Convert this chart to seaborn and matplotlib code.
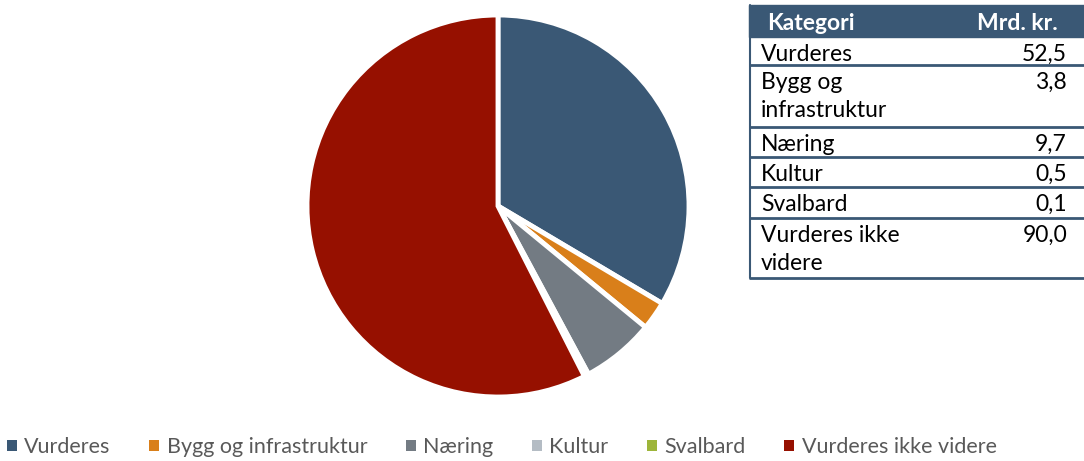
import matplotlib
matplotlib.use("Agg")
import matplotlib.pyplot as plt
import seaborn as sns
from matplotlib.patches import Rectangle

categories = ['Vurderes', 'Bygg og infrastruktur', 'Næring', 'Kultur', 'Svalbard', 'Vurderes ikke videre']
table_labels = ['Vurderes', 'Bygg og\ninfrastruktur', 'Næring', 'Kultur', 'Svalbard', 'Vurderes ikke\nvidere']
values = [52.5, 3.8, 9.7, 0.5, 0.1, 90.0]
colors = ['#3a5875', '#d97f1a', '#737b83', '#b4bcc4', '#9db53a', '#961000']

sns.set_theme(style='white')
plt.rcParams['font.family'] = ['Lato', 'DejaVu Sans']

W, H = 1084, 461
fig = plt.figure(figsize=(W / 100, H / 100), dpi=100)

# pie
cx, cy, r = 498, 206, 191
ax = fig.add_axes([(cx - r) / W, (H - cy - r) / H, 2 * r / W, 2 * r / H])
wedges, _ = ax.pie(values, colors=colors, startangle=90, counterclock=False,
                   wedgeprops=dict(edgecolor='white', linewidth=3.5))
ax.set_xlim(-1, 1)
ax.set_ylim(-1, 1)
ax.set_aspect('equal')

# table drawn in pixel coordinates
x0, x1, y0, y1 = 749, 1084, 5, 280
tax = fig.add_axes([x0 / W, (H - y1) / H, (x1 - x0) / W, (y1 - y0) / H])
tax.set_xlim(x0, x1)
tax.set_ylim(y1, y0)
tax.axis('off')
navy = '#3a5875'
fs = 16.5
rows = [5, 37, 65, 127, 157, 187, 218, 278]
tax.add_patch(Rectangle((x0, rows[0]), x1 - x0, rows[1] - rows[0], color=navy, clip_on=False))
tax.text(767, 30, 'Kategori', color='white', fontsize=fs,
         fontweight='bold', va='baseline', ha='left')
tax.text(1058, 30, 'Mrd. kr.', color='white', fontsize=fs,
         fontweight='bold', va='baseline', ha='right')
for i, (lab, v) in enumerate(zip(table_labels, values)):
    top = rows[i + 1]
    bot = rows[i + 2]
    for j, line in enumerate(lab.split('\n')):
        tax.text(761, top + 24 + 28 * j, line, fontsize=fs, va='baseline', ha='left',
                 color='black')
    tax.text(1067, top + 24, f'{v:.1f}'.replace('.', ','), fontsize=fs, va='baseline',
             ha='right', color='black')
    tax.plot([x0, x1], [bot, bot], color=navy, lw=2, clip_on=False, solid_capstyle='butt')
tax.plot([x0 + 0.5, x0 + 0.5], [rows[0], rows[-1]], color=navy, lw=1.5, clip_on=False)

# legend
handles = [Rectangle((0, 0), 1, 1, color=c, lw=0) for c in colors]
fig.legend(handles, categories, loc='center', bbox_to_anchor=(0.463, 1 - 447 / H),
           ncol=6, frameon=False, fontsize=15.5, handlelength=0.45, handleheight=0.45,
           handletextpad=0.35, columnspacing=1.8, labelcolor='#595959')

fig.savefig('out.png', dpi=100)
